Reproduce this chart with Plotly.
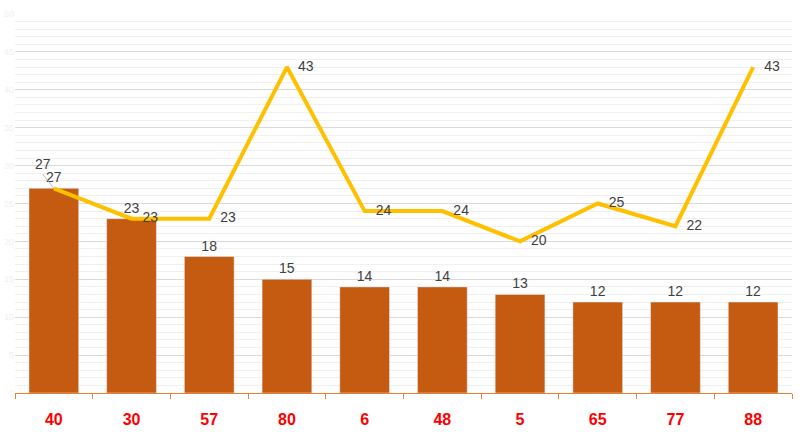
import plotly.graph_objects as go

categories = ["40", "30", "57", "80", "6", "48", "5", "65", "77", "88"]
bar_values = [27, 23, 18, 15, 14, 14, 13, 12, 12, 12]
line_values = [27, 23, 23, 43, 24, 24, 20, 25, 22, 43]

BAR_COLOR = "#C55A11"
LINE_COLOR = "#FFC000"
TEXT_COLOR = "#404040"
FONT = "Liberation Sans, Arial, sans-serif"

fig = go.Figure()
fig.add_trace(go.Bar(
    x=categories, y=bar_values, marker_color=BAR_COLOR, width=0.64,
    text=[str(v) for v in bar_values], textposition="outside",
    textfont=dict(color=TEXT_COLOR, size=14, family=FONT),
    cliponaxis=False, showlegend=False,
))
line_text = [""] + [str(v) for v in line_values[1:]]
fig.add_trace(go.Scatter(
    x=categories, y=line_values, mode="lines+markers+text",
    line=dict(color=LINE_COLOR, width=4),
    marker=dict(size=16, color="rgba(0,0,0,0)"),
    text=line_text, textposition="middle right",
    textfont=dict(color=TEXT_COLOR, size=14, family=FONT),
    cliponaxis=False, showlegend=False,
))
# first line label moved off the bar label with a leader line
fig.add_annotation(
    x=0, y=line_values[0], text=str(line_values[0]),
    showarrow=True, arrowhead=0, arrowwidth=0.8, arrowcolor="#a6a6a6",
    ax=-11, ay=-14, xanchor="center", yanchor="bottom",
    font=dict(color=TEXT_COLOR, size=14, family=FONT),
)

fig.update_layout(
    width=807, height=438,
    margin=dict(l=15, r=15, t=14, b=45),
    plot_bgcolor="white", paper_bgcolor="white",
    bargap=0.36, uniformtext=dict(mode=False),
)
fig.update_xaxes(
    type="category", range=[-0.5, len(categories) - 0.5],
    showline=True, linecolor="#ED7D31", linewidth=1,
    ticks="outside", tickson="boundaries", ticklen=5, tickcolor="#ED7D31",
    tickangle=0, ticklabelstandoff=12, automargin=False,
    tickfont=dict(color="#FF0000", size=16, family=FONT, weight="bold"),
    showgrid=False, zeroline=False,
)
fig.update_yaxes(
    range=[0, 50], dtick=5, showgrid=True, gridcolor="#d9d9d9", gridwidth=1,
    minor=dict(dtick=1, showgrid=True, gridcolor="#f0f0f0", gridwidth=1),
    tickfont=dict(color="#f0f0f0", size=9, family=FONT), automargin=False,
    zeroline=False, showline=False, ticks="",
)

fig.write_html("out.html")
